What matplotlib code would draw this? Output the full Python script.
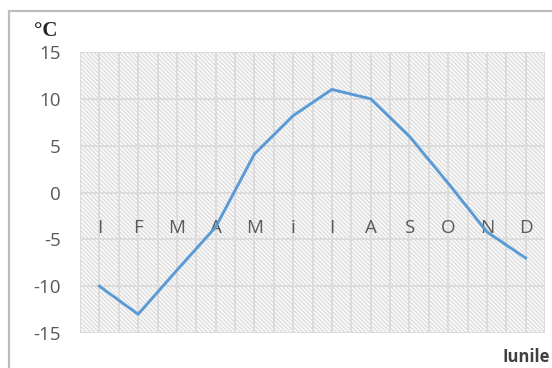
import numpy as np
import matplotlib.pyplot as plt
from matplotlib.patches import Rectangle

months = ["I", "F", "M", "A", "M", "i", "I", "A", "S", "O", "N", "D"]
temps = [-10.0, -13.0, -8.3, -3.7, 4.1, 8.2, 11.0, 10.0, 6.0, 1.0, -4.2, -7.0]
yticks = [-15, -10, -5, 0, 5, 10, 15]

W, H = 552, 368
plt.rcParams["hatch.linewidth"] = 1.2

fig = plt.figure(figsize=(W / 100, H / 100), dpi=100)
ax = fig.add_axes([80 / W, (H - 333) / H, (545 - 80) / W, (333 - 52) / H])

# chart border (runs past the right and bottom edges)
fig.patches.append(Rectangle((9 / W, -0.1), 1.0, (H - 11) / H + 0.1,
                             transform=fig.transFigure, fill=False,
                             edgecolor="#bdbdbd", linewidth=1.6))

# hatched plot area
ax.add_patch(Rectangle((0, 0), 1, 1, transform=ax.transAxes, facecolor="white",
                       edgecolor="#e0e0e0", linewidth=0, hatch="\\" * 8, zorder=0))

x = np.arange(len(months))
ax.set_xlim(-0.5, len(months) - 0.5)
ax.set_ylim(-15, 15)

for gx in np.arange(-0.5, len(months), 0.5):
    ax.axvline(gx, color="#dcdcdc", lw=1.4, zorder=1)
for gy in yticks:
    ax.axhline(gy, color="#dcdcdc", lw=1.4, zorder=1)

ax.plot(x, temps, color="#5b9bd5", lw=2.1, zorder=3)

ax.set_yticks(yticks)
ax.set_yticklabels([str(v) for v in yticks], fontsize=13.5, color="#595959",
                   family="Open Sans")
ax.tick_params(axis="y", length=0, pad=14)

ax.spines["bottom"].set_position(("data", 0))
ax.set_xticks(x)
ax.set_xticklabels(months, fontsize=13.5, color="#595959", family="Open Sans")
ax.tick_params(axis="x", length=0, pad=19)
for s in ax.spines.values():
    s.set_visible(False)
ax.patch.set_visible(False)

fig.text(34 / W, 1 - 31 / H, "°C", fontsize=15, fontweight="bold",
         family="Liberation Serif", color="#262626", va="center", ha="left")
fig.text(502 / W, 1 - 357 / H, "Iunile", fontsize=12, fontweight="bold",
         family="Open Sans", color="#404040", va="center", ha="left")

fig.savefig("out.png", dpi=100)
